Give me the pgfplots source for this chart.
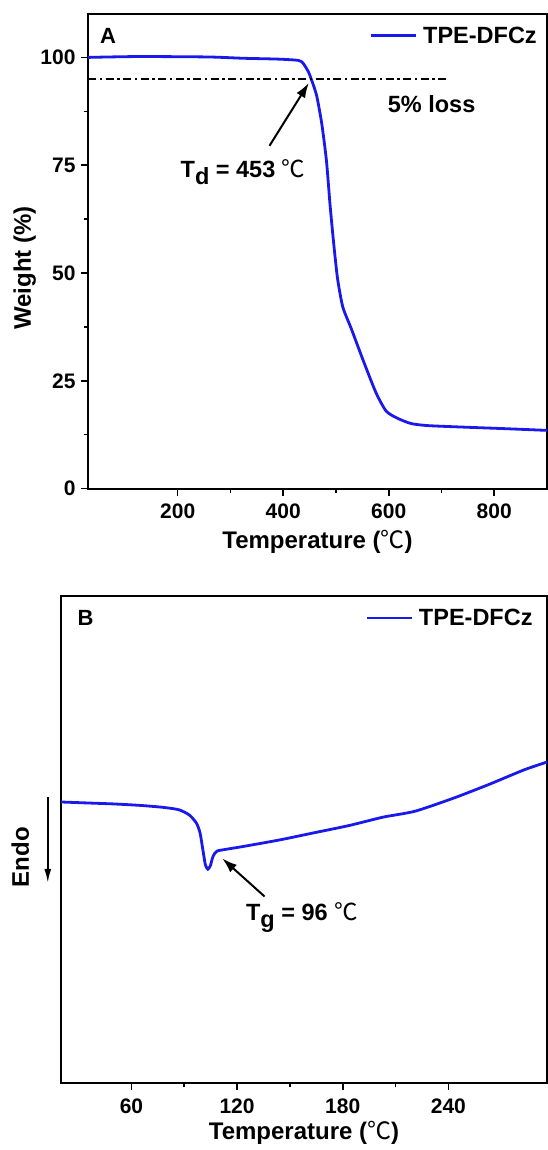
\documentclass[border=0pt]{standalone}
\usepackage{pgfplots}
\pgfplotsset{compat=1.18}
\usepackage{fontspec}
\setmainfont{Liberation Sans}
\newfontfamily\cjk{Noto Sans CJK SC}
\usetikzlibrary{arrows.meta}
\definecolor{curve}{RGB}{25,25,235}
\newcommand{\degC}{{\cjk\mdseries ℃}}
\newcommand{\annfont}{\fontsize{23.5}{25}\selectfont\bfseries}

\pgfplotsset{
  panel/.style={
    scale only axis, clip=false,
    axis line style={line width=2pt},
    tick align=outside, tick pos=left,
    major tick length=7pt, minor tick length=4.5pt,
    major tick style={line width=1.6pt, black},
    minor tick style={line width=1.6pt, black},
    ticklabel style={font=\fontsize{21}{22}\selectfont\bfseries},
    xticklabel style={yshift=-5pt},
    yticklabel style={xshift=-2pt},
    /pgf/number format/assume math mode=true,
    label style={font=\fontsize{24}{26}\selectfont\bfseries},
    legend style={draw=none, fill=none, anchor=east, column sep=4pt,
      font=\fontsize{23.5}{25}\selectfont\bfseries},
    legend image code/.code={\draw[#1] (0pt,0pt) -- (45pt,0pt);},
  }
}

\begin{document}
\begin{tikzpicture}
% ---- A: TGA ----
\begin{axis}[panel, at={(88pt,661.4pt)}, anchor=south west,
  width=459pt, height=474.3pt,
  xmin=30, xmax=900, ymin=0, ymax=110,
  xtick={200,400,600,800}, ytick={0,25,50,75,100},
  minor x tick num=1, minor y tick num=1,
  xlabel={Temperature (\degC)}, ylabel={Weight (\%)},
  xlabel style={at={(axis description cs:0.5,-0.127)}, anchor=base},
  ylabel style={at={(axis description cs:-0.138,0.465)}, anchor=center},
  legend style={at={(rel axis cs:0.989,0.955)}}]
\addplot[curve, line width=2.8pt, smooth, tension=0.4] coordinates {
  (30,100.0) (125,100.2) (258,100.1) (324,99.8) (391,99.6) (429,99.3)
  (438,98.6) (448,96.6) (453,95.0) (458,93.3) (464,90.8) (473,84.7)
  (482,76.0) (489,65.5) (496,56.5) (503,48.7) (513,42.1) (529,37.1)
  (552,29.6) (576,22.2) (595,18.0) (615,16.4) (642,15.1) (675,14.6)
  (754,14.2) (820,13.9) (900,13.5)};
\addlegendentry{TPE-DFCz}
\addplot[black, line width=2pt, dash pattern=on 8pt off 3.5pt on 2.5pt off 3.5pt, forget plot]
  coordinates {(30,95) (710,95)};
\draw[-{Latex[length=15pt,width=10pt]}, line width=2pt]
  (axis cs:374,79.5) -- (axis cs:448.6,94.1);
\node[anchor=base west, font=\annfont, inner sep=0pt] at (axis cs:205.3,72.1)
  {T\raisebox{-7pt}{d} = 453 \degC};
\node[anchor=base west, font=\annfont, inner sep=0pt] at (axis cs:598,87.3) {5\% loss};
\node[font=\fontsize{22}{23}\selectfont\bfseries] at (rel axis cs:0.0436,0.955) {A};
\end{axis}

% ---- B: DSC ----
\begin{axis}[panel, at={(61pt,67pt)}, anchor=south west,
  width=486pt, height=487pt,
  xmin=20, xmax=296, ymin=0, ymax=100,
  xtick={60,120,180,240}, minor x tick num=1, ytick=\empty,
  xlabel={Temperature (\degC)},
  xlabel style={at={(axis description cs:0.5,-0.117)}, anchor=base},
  legend style={at={(rel axis cs:0.981,0.955)}}]
\addplot[curve, line width=2.8pt, smooth, tension=0.4] coordinates {
  (20,57.7) (35,57.5) (50,57.3) (65,57.0) (78,56.6) (87,56.1) (93,55.0)
  (97,53.3) (99,51.3) (100.6,47.8) (102,44.8) (103.4,43.9) (104.8,44.6)
  (106.3,46.5) (108.5,47.6) (114,48.0) (124,48.6) (144,49.9) (164,51.4)
  (184,52.9) (203,54.6) (221,55.8) (243,58.5) (263,61.3) (283,64.3) (296,65.9)};
\addlegendentry{TPE-DFCz}
\draw[-{Latex[length=15pt,width=10pt]}, line width=2pt]
  (axis cs:135.6,38.3) -- (axis cs:111.6,46.1);
\node[anchor=base west, font=\annfont, inner sep=0pt] at (axis cs:125,33.3)
  {T\raisebox{-7pt}{g} = 96 \degC};
\draw[-{Latex[length=14pt,width=7pt]}, line width=1.8pt]
  (axis cs:12.5,58.7) -- (axis cs:12.5,41.1);
\node[rotate=90, font=\fontsize{24}{26}\selectfont\bfseries] at (axis cs:-3.1,46.4) {Endo};
\node[font=\fontsize{22}{23}\selectfont\bfseries] at (rel axis cs:0.0506,0.955) {B};
\end{axis}
\pgfresetboundingbox
\path[use as bounding box] (0,0) rectangle (548pt,1150pt);
\end{tikzpicture}
\end{document}
